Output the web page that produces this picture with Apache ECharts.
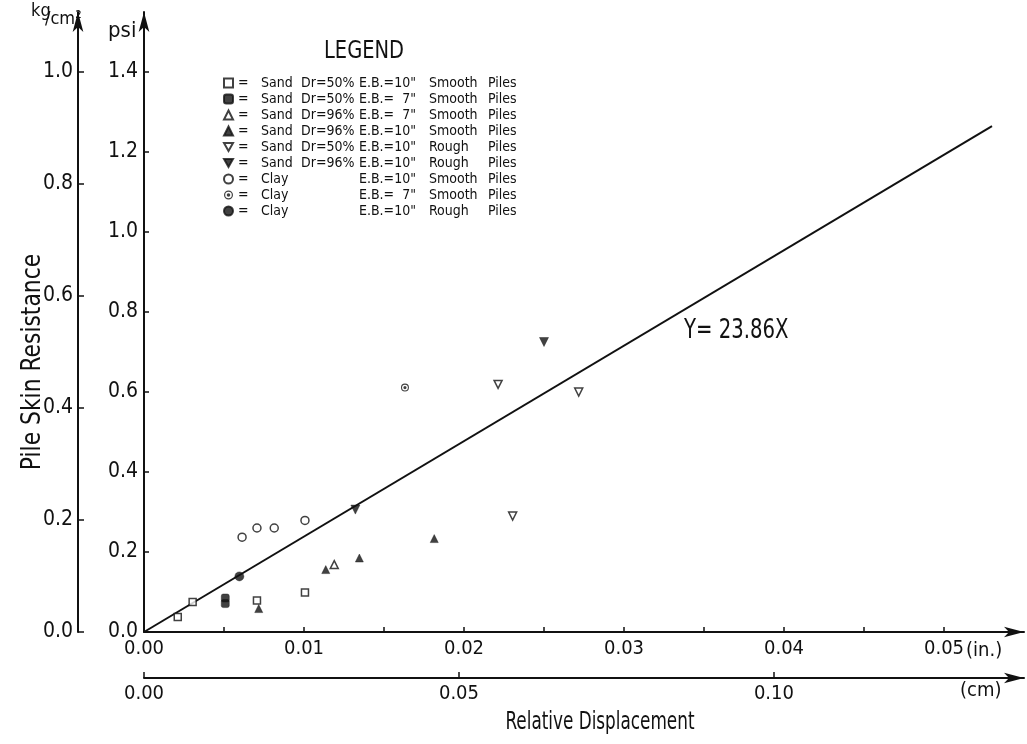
<!DOCTYPE html>
<html>
<head>
<meta charset="utf-8">
<script src="https://cdn.jsdelivr.net/npm/echarts@6/dist/echarts.min.js"></script>
<style>
html,body{margin:0;padding:0;background:#fff;}
#chart{width:1027px;height:744px;}
</style>
</head>
<body>
<div id="chart"></div>
<script>
// ---------------- data ----------------
const xTicksIn = [0, 0.01, 0.02, 0.03, 0.04, 0.05];
const xTicksCm = [0, 0.05, 0.10];
const psiTicks = [0, 0.2, 0.4, 0.6, 0.8, 1.0, 1.2, 1.4];
const kgTicks = [0, 0.2, 0.4, 0.6, 0.8, 1.0];

const legMaterial = ['Sand', 'Sand', 'Sand', 'Sand', 'Sand', 'Sand', 'Clay', 'Clay', 'Clay'];
const legDr = ['Dr=50%', 'Dr=50%', 'Dr=96%', 'Dr=96%', 'Dr=50%', 'Dr=96%', '', '', ''];
const legEB = ['E.B.=10"', 'E.B.=  7"', 'E.B.=  7"', 'E.B.=10"', 'E.B.=10"', 'E.B.=10"', 'E.B.=10"', 'E.B.=  7"', 'E.B.=10"'];
const legSurface = ['Smooth', 'Smooth', 'Smooth', 'Smooth', 'Rough', 'Rough', 'Smooth', 'Smooth', 'Rough'];

// displacement (in.), resistance (psi)
const sand50EB10Smooth = [[0.00211, 0.0375], [0.00304, 0.075], [0.00706, 0.079], [0.01006, 0.099]];
const sand50EB7Smooth = [[0.00508, 0.085], [0.00508, 0.071]];
const sand96EB7Smooth = [[0.01189, 0.1685]];
const sand96EB10Smooth = [[0.00717, 0.0585], [0.01136, 0.156], [0.01346, 0.185], [0.01814, 0.2335]];
const sand50EB10Rough = [[0.02213, 0.619], [0.02717, 0.600], [0.02304, 0.290]];
const sand96EB10Rough = [[0.02500, 0.725], [0.01321, 0.306]];
const clayEB10Smooth = [[0.00613, 0.237], [0.00706, 0.260], [0.00814, 0.260], [0.01006, 0.279]];
const clayEB7Smooth = [[0.01631, 0.611]];
const clayEB10Rough = [[0.00596, 0.139]];

const fitSlope = 23.86;
const fitRange = [0, 0.053];
const fitLabel = 'Y= 23.86X';

// ---------------- chart ----------------
const FONT = "'DejaVu Sans Condensed','DejaVu Sans',sans-serif";
const INK = '#111';

const PSI_MAX = 1.55;
const KG_MAX = PSI_MAX / 1.4;
const IN_MAX = 0.055;

const seriesNames = legMaterial.map((m, i) => [m, legDr[i], legEB[i], legSurface[i], 'Piles'].join('|'));

const dotCircle = 'path://M10,0A10,10,0,1,1,-10,0A10,10,0,1,1,10,0ZM7.3,0A7.3,7.3,0,1,0,-7.3,0A7.3,7.3,0,1,0,7.3,0ZM4,0A4,4,0,1,1,-4,0A4,4,0,1,1,4,0Z';
const downTri = 'path://M0,0L10,0L5,9Z';

const openStyle = { color: '#fff', borderColor: INK, borderWidth: 1.5 };
const fillStyle = { color: INK, borderColor: INK, borderWidth: 0.5 };

const symbolDefs = [
  { data: sand50EB10Smooth, symbol: 'rect', size: 7, style: openStyle },
  { data: sand50EB7Smooth, symbol: 'roundRect', size: 8, style: fillStyle },
  { data: sand96EB7Smooth, symbol: 'triangle', size: 8, style: openStyle },
  { data: sand96EB10Smooth, symbol: 'triangle', size: 8, style: fillStyle },
  { data: sand50EB10Rough, symbol: downTri, size: 8, style: openStyle },
  { data: sand96EB10Rough, symbol: downTri, size: 9, style: fillStyle },
  { data: clayEB10Smooth, symbol: 'circle', size: 8, style: openStyle },
  { data: clayEB7Smooth, symbol: dotCircle, size: 8, style: { color: INK } },
  { data: clayEB10Rough, symbol: 'circle', size: 9, style: fillStyle }
];

const series = symbolDefs.map((d, i) => ({
  name: seriesNames[i],
  type: 'scatter',
  xAxisIndex: 0,
  yAxisIndex: 0,
  symbol: d.symbol,
  symbolSize: d.size,
  itemStyle: d.style,
  data: d.data,
  z: 3
}));

series.push({
  name: 'fit',
  type: 'line',
  xAxisIndex: 0,
  yAxisIndex: 0,
  showSymbol: false,
  symbol: 'none',
  lineStyle: { color: INK, width: 2 },
  data: fitRange.map(x => [x, fitSlope * x]),
  z: 2,
  silent: true
});

function near(v, list) {
  return list.some(t => Math.abs(t - v) < 1e-7);
}

const axisArrowLine = { show: true, onZero: false, symbol: ['none', 'arrow'], symbolSize: [8, 20], lineStyle: { color: INK, width: 2 } };

const LF = 14;
const richCols = {
  eq: { width: 23, fontSize: LF, fontFamily: FONT, color: INK, lineHeight: 12 },
  m: { width: 40, fontSize: LF, fontFamily: FONT, color: INK, lineHeight: 12 },
  d: { width: 58, fontSize: LF, fontFamily: FONT, color: INK, lineHeight: 12 },
  e: { width: 70, fontSize: LF, fontFamily: FONT, color: INK, lineHeight: 12 },
  s: { width: 59, fontSize: LF, fontFamily: FONT, color: INK, lineHeight: 12 },
  p: { fontSize: LF, fontFamily: FONT, color: INK, lineHeight: 12 }
};

const option = {
  backgroundColor: '#fff',
  animation: false,
  grid: { left: 144, right: 3, top: 12, bottom: 112, containLabel: false },
  legend: {
    data: seriesNames,
    orient: 'vertical',
    left: 218,
    top: 71,
    itemWidth: 9,
    itemHeight: 9,
    itemGap: 2,
    selectedMode: false,
    textStyle: { fontFamily: FONT, fontSize: LF, color: INK, lineHeight: 12, rich: richCols },
    formatter: function (name) {
      const p = name.split('|');
      return '{eq|=}{m|' + p[0] + '}{d|' + p[1] + '}{e|' + p[2] + '}{s|' + p[3] + '}{p|' + p[4] + '}';
    }
  },
  xAxis: [
    {
      type: 'value', min: 0, max: IN_MAX, interval: 0.005, position: 'bottom',
      axisLine: axisArrowLine,
      axisTick: { show: true, inside: true, length: 5, lineStyle: { color: INK, width: 1.5 } },
      splitLine: { show: false },
      axisLabel: {
        fontFamily: FONT, fontSize: 20, color: INK, margin: 7, showMaxLabel: false,
        formatter: v => (near(v, xTicksIn) ? v.toFixed(2) : '')
      }
    },
    {
      type: 'value', min: 0, max: IN_MAX * 2.54, interval: 0.05, position: 'bottom', offset: 46,
      axisLine: axisArrowLine,
      axisTick: { show: true, inside: true, length: 6, lineStyle: { color: INK, width: 1.5 } },
      splitLine: { show: false },
      axisLabel: {
        fontFamily: FONT, fontSize: 20, color: INK, margin: 6, showMaxLabel: false,
        formatter: v => (near(v, xTicksCm) ? v.toFixed(2) : '')
      }
    }
  ],
  yAxis: [
    {
      type: 'value', min: 0, max: PSI_MAX, interval: 0.2, position: 'left',
      axisLine: axisArrowLine,
      axisTick: { show: true, inside: true, length: 5, lineStyle: { color: INK, width: 1.5 } },
      splitLine: { show: false },
      axisLabel: {
        fontFamily: FONT, fontSize: 21, color: INK, margin: 6, showMaxLabel: false,
        formatter: v => (near(v, psiTicks) ? v.toFixed(1) : '')
      }
    },
    {
      type: 'value', min: 0, max: KG_MAX, interval: 0.2, position: 'left', offset: 66,
      axisLine: axisArrowLine,
      axisTick: { show: true, inside: true, length: 6, lineStyle: { color: INK, width: 1.5 } },
      splitLine: { show: false },
      axisLabel: {
        fontFamily: FONT, fontSize: 21, color: INK, margin: 5, showMaxLabel: false,
        formatter: v => (near(v, kgTicks) ? v.toFixed(1) : '')
      }
    }
  ],
  graphic: [
    { type: 'text', x: 364, y: 52, scaleX: 0.9, style: { text: 'LEGEND', font: '24px ' + FONT, fill: INK, align: 'center', verticalAlign: 'middle' } },
    { type: 'text', x: 684, y: 331, scaleX: 0.84, style: { text: fitLabel, font: '26px ' + FONT, fill: INK, align: 'left', verticalAlign: 'middle' } },
    { type: 'text', left: 966, top: 641, style: { text: '(in.)', font: '20px ' + FONT, fill: INK } },
    { type: 'text', left: 960, top: 681, style: { text: '(cm)', font: '20px ' + FONT, fill: INK } },
    { type: 'text', left: 108, top: 20, style: { text: 'psi', font: '22px ' + FONT, fill: INK } },
    { type: 'text', left: 31, top: 2, style: { text: 'kg', font: '18px ' + FONT, fill: INK } },
    { type: 'text', left: 45, top: 10, style: { text: '/cm²', font: '18px ' + FONT, fill: INK } },
    { type: 'text', x: 600, y: 723, scaleX: 0.78, style: { text: 'Relative Displacement', font: '24px ' + FONT, fill: INK, align: 'center', verticalAlign: 'middle' } },
    { type: 'text', x: 33, y: 362, rotation: Math.PI / 2, scaleX: 0.9, style: { text: 'Pile Skin Resistance', font: '27px ' + FONT, fill: INK, align: 'center', verticalAlign: 'middle' } }
  ],
  series: series
};

const chart = echarts.init(document.getElementById('chart'), null, { renderer: 'canvas' });
chart.setOption(option);
</script>
</body>
</html>
